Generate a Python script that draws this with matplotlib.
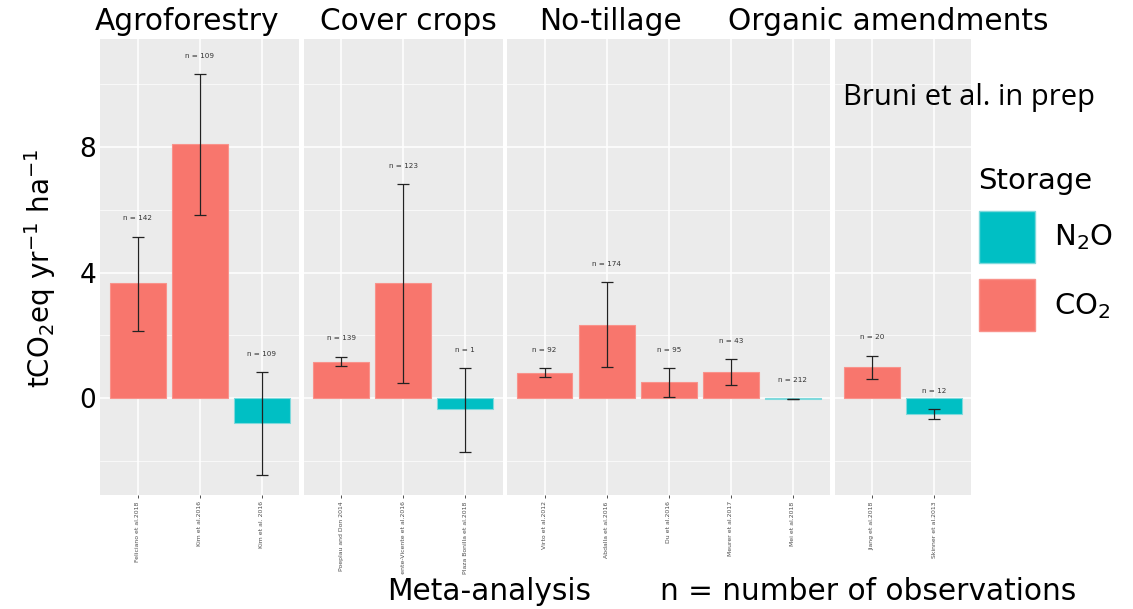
import matplotlib
matplotlib.use('Agg')
import matplotlib.pyplot as plt
from matplotlib.patches import Patch

# Practices (facets) and their studies
practices = ['Agroforestry', 'Cover crops', 'No-tillage', 'Organic amendments']
studies = [
    ['Feliciano et al.2018', 'Kim et al.2016', 'Kim et al. 2016'],
    ['Poeplau and Don 2014', 'Vicente-Vicente et al.2016', 'Plaza Bonilla et al.2018'],
    ['Virto et al.2012', 'Abdalla et al.2016', 'Du et al.2016', 'Meurer et al.2017', 'Mei et al.2018'],
    ['Jiang et al.2018', 'Skinner et al.2013'],
]
gas = [
    ['CO2', 'CO2', 'N2O'],
    ['CO2', 'CO2', 'N2O'],
    ['CO2', 'CO2', 'CO2', 'CO2', 'N2O'],
    ['CO2', 'N2O'],
]
means = [
    [3.66, 8.09, -0.80],
    [1.17, 3.66, -0.35],
    [0.82, 2.34, 0.51, 0.83, -0.02],
    [0.99, -0.49],
]
err_lo = [
    [2.15, 5.84, -2.44],
    [1.03, 0.50, -1.70],
    [0.69, 0.99, 0.05, 0.43, -0.03],
    [0.62, -0.66],
]
err_hi = [
    [5.15, 10.33, 0.83],
    [1.33, 6.81, 0.96],
    [0.97, 3.71, 0.97, 1.24, -0.01],
    [1.36, -0.34],
]
n_obs = [
    [142, 109, 109],
    [139, 123, 1],
    [92, 174, 95, 43, 212],
    [20, 12],
]

colors = {'CO2': '#F8766D', 'N2O': '#00BFC4'}
edges = {'CO2': '#F9928B', 'N2O': '#7FD9DC'}

W, H = 1133, 609
fig = plt.figure(figsize=(W / 100, H / 100), dpi=100)
plt.rcParams['font.family'] = 'DejaVu Sans'

# panel layout in pixels (ggplot facet_grid with free x space)
left0, unit, gap, pad = 100.4, 62.1, 4.7, 0.6
top_px, bot_px = 39, 495
ymin, ymax = -3.08, 11.44

x = left0
axes = []
for i, names in enumerate(studies):
    k = len(names)
    wpx = (k - 1 + 2 * pad) * unit
    ax = fig.add_axes([x / W, 1 - bot_px / H, wpx / W, (bot_px - top_px) / H])
    x += wpx + gap
    axes.append(ax)

    ax.set_facecolor('#EBEBEB')
    pos = list(range(k))
    ax.set_xlim(-pad, k - 1 + pad)
    ax.set_ylim(ymin, ymax)
    ax.set_yticks([0, 4, 8])
    ax.set_yticks([-2, 2, 6, 10], minor=True)
    ax.set_xticks(pos)
    ax.grid(True, which='major', color='white', lw=1.1)
    ax.grid(True, which='minor', axis='y', color='white', lw=0.5)
    ax.set_axisbelow(True)
    for s in ax.spines.values():
        s.set_visible(False)

    for j in pos:
        g = gas[i][j]
        ax.bar(j, means[i][j], width=0.9, color=colors[g],
               edgecolor=edges[g], lw=0.8, zorder=2)
        m = means[i][j]
        ax.errorbar(j, m, yerr=[[m - err_lo[i][j]], [err_hi[i][j] - m]],
                    fmt='none', ecolor='#222222', elinewidth=0.9,
                    capsize=4, capthick=0.9, zorder=3)
        ax.text(j, err_hi[i][j] + 0.58, 'n = %d' % n_obs[i][j],
                ha='center', va='center', fontsize=5.2, color='#333333')

    ax.set_xticklabels(names, rotation=90, fontsize=4.4, color='#4D4D4D',
                       va='top', ha='center')
    ax.tick_params(axis='x', length=2.5, width=0.6, color='#333333', pad=2)
    ax.tick_params(axis='y', which='both', length=0)
    if i == 0:
        ax.set_yticklabels(['0', '4', '8'], fontsize=19)
        ax.tick_params(axis='y', pad=3)
    else:
        ax.set_yticklabels([])

# facet titles (slide text)
title_x = [187, 408, 611, 888]
for t, tx in zip(practices, title_x):
    fig.text(tx / W, 1 - 21 / H, t, ha='center', va='center', fontsize=21.3)

fig.text(40 / W, 1 - 268 / H, r'tCO$_2$eq yr$^{-1}$ ha$^{-1}$',
         rotation=90, ha='center', va='center', fontsize=20)

# slide text boxes below the chart (white box hides the end of one tick label)
fig.text(489 / W, 1 - 592 / H, 'Meta-analysis', ha='center', va='center', fontsize=21.3,
         bbox=dict(facecolor='white', edgecolor='none', pad=1.5), zorder=5)
fig.text(868 / W, 1 - 592 / H, 'n = number of observations',
         ha='center', va='center', fontsize=21.3)

fig.text(969 / W, 1 - 98 / H, 'Bruni et al. in prep', ha='center', va='center',
         fontsize=21, family='Open Sans')

handles = [Patch(facecolor=colors['N2O'], edgecolor=edges['N2O']),
           Patch(facecolor=colors['CO2'], edgecolor=edges['CO2'])]
leg = fig.legend(handles, [r'N$_2$O', r'CO$_2$'], title='Storage',
                 loc='upper left', bbox_to_anchor=(964 / W, 1 - 152 / H),
                 frameon=False, fontsize=21, title_fontsize=21,
                 handlelength=1.95, handleheight=2.37, labelspacing=0.55,
                 handletextpad=0.65, borderpad=0, alignment='left')

fig.savefig('out.png', dpi=100, facecolor='white')
